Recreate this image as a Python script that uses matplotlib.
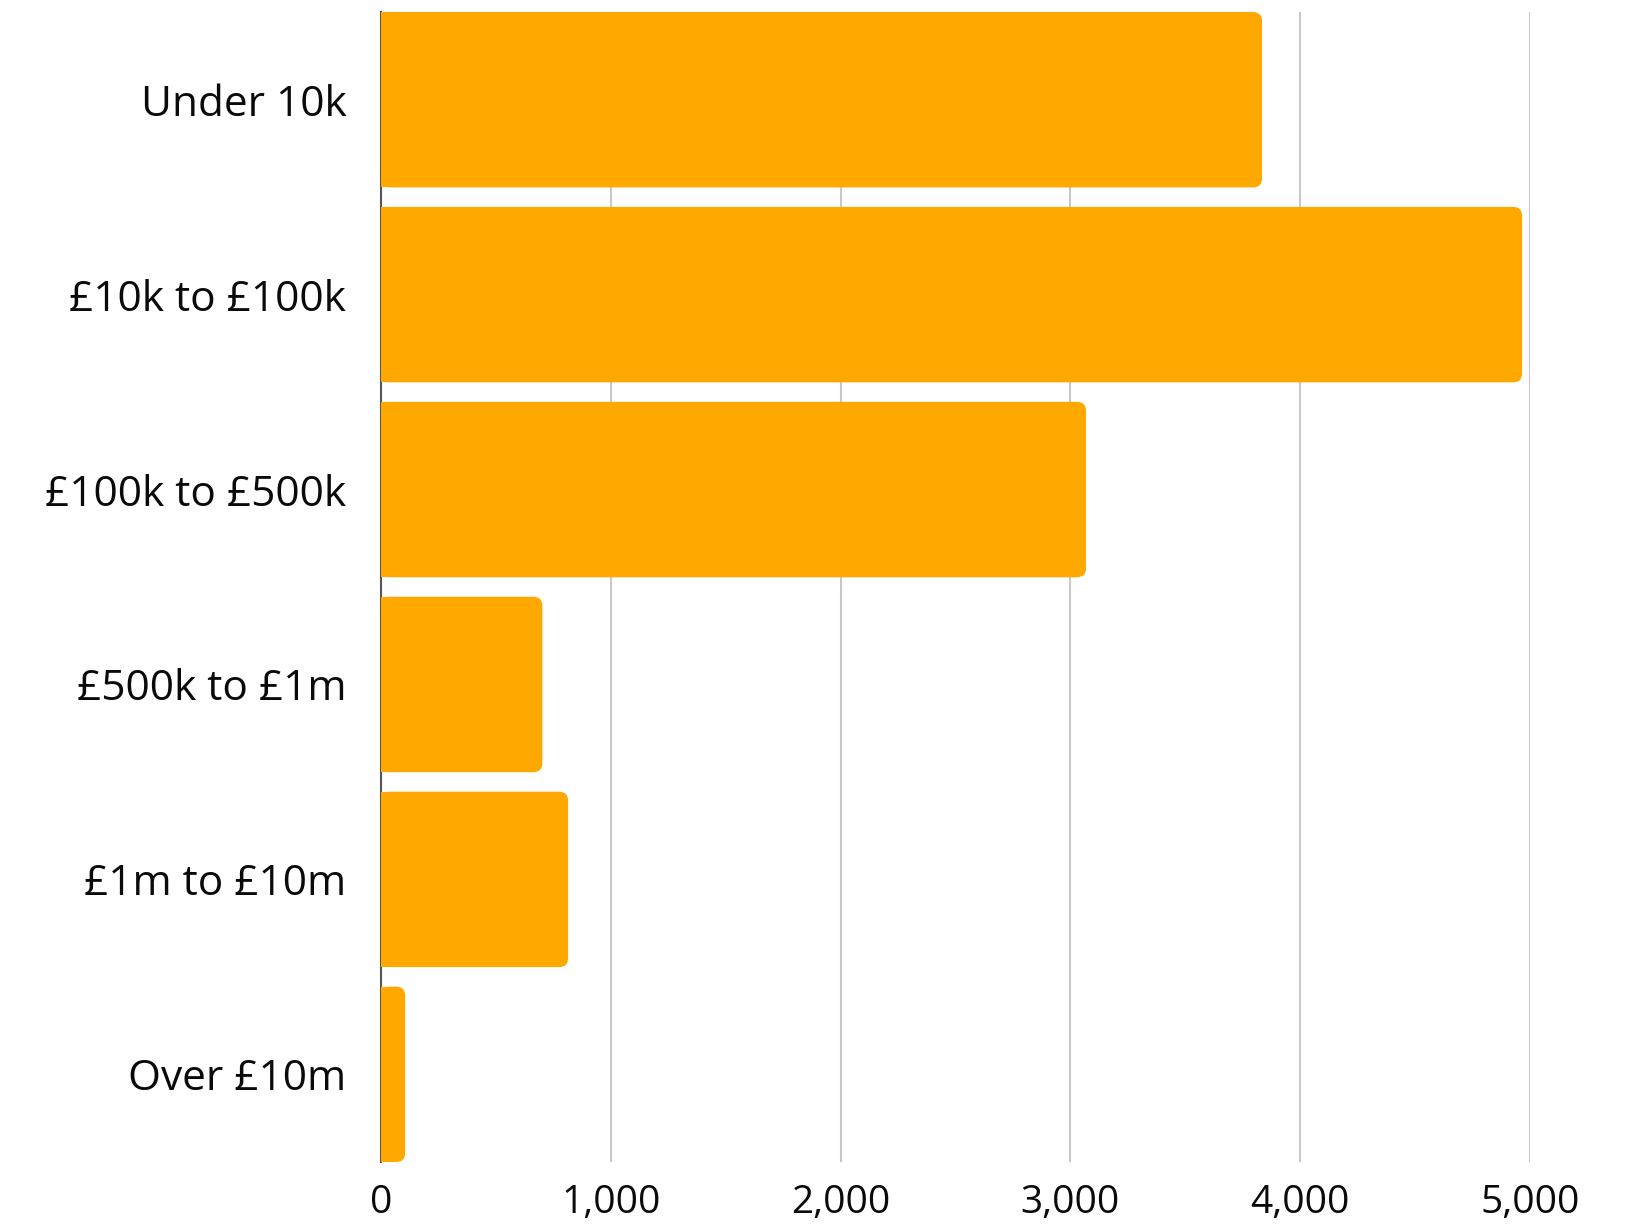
import matplotlib.pyplot as plt
from matplotlib.patches import FancyBboxPatch, Rectangle
from matplotlib.ticker import FuncFormatter

categories = ['Under 10k', '£10k to £100k', '£100k to £500k', '£500k to £1m', '£1m to £10m', 'Over £10m']
values = [3834, 4966, 3068, 702, 814, 105]
ticks = [0, 1000, 2000, 3000, 4000, 5000]

plt.rcParams['font.family'] = ['Open Sans', 'DejaVu Sans']
couleur = '#FFA800'

fig = plt.figure(figsize=(16.25, 12.25), dpi=100)
ax = fig.add_axes([0.2345, 0.0514, 0.707, 0.9388])

h = 0.9
xmax = 5000
ax.set_xlim(0, xmax)
ax.set_ylim(len(categories) - 1 + h / 2, -h / 2)

# rayon des coins en pixels converti en unites de donnees
largeur_px = 0.707 * 1625
hauteur_px = 0.9388 * 1225
r_px = 9
rx = r_px * xmax / largeur_px
ry = r_px * (len(categories) - 1 + h) / hauteur_px

for i, v in enumerate(values):
    r = min(rx, v / 2)
    p = FancyBboxPatch((0, i - h / 2), v, h,
                       boxstyle=f"round,pad=0,rounding_size={r}",
                       mutation_aspect=ry / rx,
                       facecolor=couleur, edgecolor='none', zorder=3)
    ax.add_patch(p)
    # coins gauches carres
    ax.add_patch(Rectangle((0, i - h / 2), min(v, 2 * r), h,
                           facecolor=couleur, edgecolor='none', zorder=3))

ax.set_yticks(range(len(categories)))
ax.set_yticklabels(categories)
ax.set_xticks(ticks)
ax.xaxis.set_major_formatter(FuncFormatter(lambda x, pos: f'{int(x):,}'))
ax.tick_params(axis='both', length=0, colors='#0a0a0a')
ax.tick_params(axis='y', pad=25, labelsize=30.5)
ax.tick_params(axis='x', pad=16, labelsize=28)

ax.grid(axis='x', color='#c8c8c8', linewidth=1.5, zorder=0)
ax.set_axisbelow(True)
for s in ['top', 'right', 'bottom']:
    ax.spines[s].set_visible(False)
ax.spines['left'].set_color('#555555')
ax.spines['left'].set_linewidth(1.5)
ax.spines['left'].set_zorder(1)

fig.savefig('out.png', dpi=100)
